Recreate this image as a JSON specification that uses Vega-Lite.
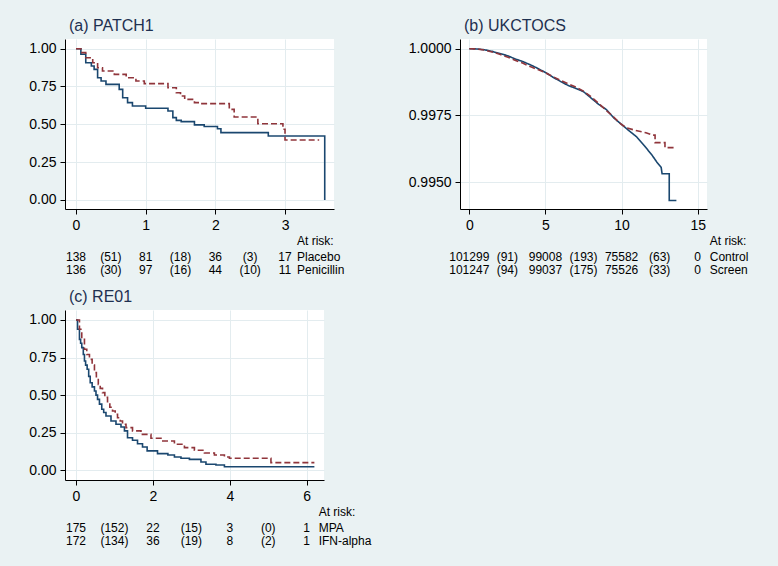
{
  "$schema": "https://vega.github.io/schema/vega-lite/v6.json",
  "background": "#EAF2F3",
  "padding": {"left": 28, "top": 18, "right": 31, "bottom": 16},
  "datasets": {
    "km": [
      {"panel": "a", "arm": "Placebo", "t": 0, "s": 1},
      {"panel": "a", "arm": "Placebo", "t": 0.07, "s": 0.963},
      {"panel": "a", "arm": "Placebo", "t": 0.14, "s": 0.907},
      {"panel": "a", "arm": "Placebo", "t": 0.22, "s": 0.885},
      {"panel": "a", "arm": "Placebo", "t": 0.26, "s": 0.863},
      {"panel": "a", "arm": "Placebo", "t": 0.31, "s": 0.808},
      {"panel": "a", "arm": "Placebo", "t": 0.36, "s": 0.786},
      {"panel": "a", "arm": "Placebo", "t": 0.43, "s": 0.764},
      {"panel": "a", "arm": "Placebo", "t": 0.62, "s": 0.731},
      {"panel": "a", "arm": "Placebo", "t": 0.67, "s": 0.676},
      {"panel": "a", "arm": "Placebo", "t": 0.74, "s": 0.643},
      {"panel": "a", "arm": "Placebo", "t": 0.81, "s": 0.621},
      {"panel": "a", "arm": "Placebo", "t": 1.0, "s": 0.606},
      {"panel": "a", "arm": "Placebo", "t": 1.32, "s": 0.588},
      {"panel": "a", "arm": "Placebo", "t": 1.39, "s": 0.544},
      {"panel": "a", "arm": "Placebo", "t": 1.44, "s": 0.526},
      {"panel": "a", "arm": "Placebo", "t": 1.51, "s": 0.518},
      {"panel": "a", "arm": "Placebo", "t": 1.7, "s": 0.496},
      {"panel": "a", "arm": "Placebo", "t": 1.84, "s": 0.485},
      {"panel": "a", "arm": "Placebo", "t": 2.03, "s": 0.471},
      {"panel": "a", "arm": "Placebo", "t": 2.08, "s": 0.445},
      {"panel": "a", "arm": "Placebo", "t": 2.76, "s": 0.423},
      {"panel": "a", "arm": "Placebo", "t": 3.57, "s": 0},
      {"panel": "a", "arm": "Penicillin", "t": 0, "s": 1},
      {"panel": "a", "arm": "Penicillin", "t": 0.07, "s": 0.974},
      {"panel": "a", "arm": "Penicillin", "t": 0.14, "s": 0.94},
      {"panel": "a", "arm": "Penicillin", "t": 0.24, "s": 0.907},
      {"panel": "a", "arm": "Penicillin", "t": 0.31, "s": 0.874},
      {"panel": "a", "arm": "Penicillin", "t": 0.38, "s": 0.852},
      {"panel": "a", "arm": "Penicillin", "t": 0.55, "s": 0.83},
      {"panel": "a", "arm": "Penicillin", "t": 0.72, "s": 0.808},
      {"panel": "a", "arm": "Penicillin", "t": 0.86, "s": 0.786},
      {"panel": "a", "arm": "Penicillin", "t": 0.98, "s": 0.769},
      {"panel": "a", "arm": "Penicillin", "t": 1.32, "s": 0.742},
      {"panel": "a", "arm": "Penicillin", "t": 1.44, "s": 0.709},
      {"panel": "a", "arm": "Penicillin", "t": 1.5, "s": 0.687},
      {"panel": "a", "arm": "Penicillin", "t": 1.56, "s": 0.665},
      {"panel": "a", "arm": "Penicillin", "t": 1.7, "s": 0.643},
      {"panel": "a", "arm": "Penicillin", "t": 1.77, "s": 0.637},
      {"panel": "a", "arm": "Penicillin", "t": 2.2, "s": 0.599},
      {"panel": "a", "arm": "Penicillin", "t": 2.27, "s": 0.548},
      {"panel": "a", "arm": "Penicillin", "t": 2.61, "s": 0.504},
      {"panel": "a", "arm": "Penicillin", "t": 2.97, "s": 0.467},
      {"panel": "a", "arm": "Penicillin", "t": 3.0, "s": 0.396},
      {"panel": "a", "arm": "Penicillin", "t": 3.49, "s": 0.396},

      {"panel": "b", "arm": "Control", "t": 0, "s": 1},
      {"panel": "b", "arm": "Control", "t": 0.5, "s": 0.99999},
      {"panel": "b", "arm": "Control", "t": 1.0, "s": 0.99996},
      {"panel": "b", "arm": "Control", "t": 1.5, "s": 0.9999},
      {"panel": "b", "arm": "Control", "t": 2.0, "s": 0.99982},
      {"panel": "b", "arm": "Control", "t": 2.5, "s": 0.99974},
      {"panel": "b", "arm": "Control", "t": 3.0, "s": 0.99962},
      {"panel": "b", "arm": "Control", "t": 3.5, "s": 0.99952},
      {"panel": "b", "arm": "Control", "t": 4.0, "s": 0.9994},
      {"panel": "b", "arm": "Control", "t": 4.5, "s": 0.99926},
      {"panel": "b", "arm": "Control", "t": 5.0, "s": 0.99911},
      {"panel": "b", "arm": "Control", "t": 5.5, "s": 0.99893},
      {"panel": "b", "arm": "Control", "t": 6.0, "s": 0.99877},
      {"panel": "b", "arm": "Control", "t": 6.5, "s": 0.99862},
      {"panel": "b", "arm": "Control", "t": 7.0, "s": 0.99851},
      {"panel": "b", "arm": "Control", "t": 7.5, "s": 0.99839},
      {"panel": "b", "arm": "Control", "t": 8.0, "s": 0.99815},
      {"panel": "b", "arm": "Control", "t": 8.5, "s": 0.99791},
      {"panel": "b", "arm": "Control", "t": 9.0, "s": 0.99772},
      {"panel": "b", "arm": "Control", "t": 9.5, "s": 0.9974},
      {"panel": "b", "arm": "Control", "t": 10.0, "s": 0.99716},
      {"panel": "b", "arm": "Control", "t": 10.5, "s": 0.99692},
      {"panel": "b", "arm": "Control", "t": 11.0, "s": 0.99669},
      {"panel": "b", "arm": "Control", "t": 11.5, "s": 0.99636},
      {"panel": "b", "arm": "Control", "t": 12.0, "s": 0.99601},
      {"panel": "b", "arm": "Control", "t": 12.3, "s": 0.99576},
      {"panel": "b", "arm": "Control", "t": 12.6, "s": 0.99555},
      {"panel": "b", "arm": "Control", "t": 12.66, "s": 0.99531},
      {"panel": "b", "arm": "Control", "t": 13.13, "s": 0.99531},
      {"panel": "b", "arm": "Control", "t": 13.13, "s": 0.99431},
      {"panel": "b", "arm": "Control", "t": 13.6, "s": 0.99431},
      {"panel": "b", "arm": "Screen", "t": 0, "s": 1},
      {"panel": "b", "arm": "Screen", "t": 0.5, "s": 0.99999},
      {"panel": "b", "arm": "Screen", "t": 1.0, "s": 0.99995},
      {"panel": "b", "arm": "Screen", "t": 1.5, "s": 0.99988},
      {"panel": "b", "arm": "Screen", "t": 2.0, "s": 0.99979},
      {"panel": "b", "arm": "Screen", "t": 2.5, "s": 0.99969},
      {"panel": "b", "arm": "Screen", "t": 3.0, "s": 0.99957},
      {"panel": "b", "arm": "Screen", "t": 3.5, "s": 0.99946},
      {"panel": "b", "arm": "Screen", "t": 4.0, "s": 0.99933},
      {"panel": "b", "arm": "Screen", "t": 4.5, "s": 0.99922},
      {"panel": "b", "arm": "Screen", "t": 5.0, "s": 0.9991},
      {"panel": "b", "arm": "Screen", "t": 5.5, "s": 0.99895},
      {"panel": "b", "arm": "Screen", "t": 6.0, "s": 0.99881},
      {"panel": "b", "arm": "Screen", "t": 6.5, "s": 0.99868},
      {"panel": "b", "arm": "Screen", "t": 7.0, "s": 0.99856},
      {"panel": "b", "arm": "Screen", "t": 7.5, "s": 0.99841},
      {"panel": "b", "arm": "Screen", "t": 8.0, "s": 0.9982},
      {"panel": "b", "arm": "Screen", "t": 8.5, "s": 0.99795},
      {"panel": "b", "arm": "Screen", "t": 9.0, "s": 0.99768},
      {"panel": "b", "arm": "Screen", "t": 9.5, "s": 0.99743},
      {"panel": "b", "arm": "Screen", "t": 9.9, "s": 0.9972},
      {"panel": "b", "arm": "Screen", "t": 10.3, "s": 0.99704},
      {"panel": "b", "arm": "Screen", "t": 10.9, "s": 0.99694},
      {"panel": "b", "arm": "Screen", "t": 11.6, "s": 0.99685},
      {"panel": "b", "arm": "Screen", "t": 12.04, "s": 0.99676},
      {"panel": "b", "arm": "Screen", "t": 12.2, "s": 0.99676},
      {"panel": "b", "arm": "Screen", "t": 12.2, "s": 0.99648},
      {"panel": "b", "arm": "Screen", "t": 12.85, "s": 0.99648},
      {"panel": "b", "arm": "Screen", "t": 12.85, "s": 0.99629},
      {"panel": "b", "arm": "Screen", "t": 13.6, "s": 0.99629},

      {"panel": "c", "arm": "MPA", "t": 0, "s": 1},
      {"panel": "c", "arm": "MPA", "t": 0.04, "s": 0.938},
      {"panel": "c", "arm": "MPA", "t": 0.09, "s": 0.871},
      {"panel": "c", "arm": "MPA", "t": 0.12, "s": 0.845},
      {"panel": "c", "arm": "MPA", "t": 0.15, "s": 0.816},
      {"panel": "c", "arm": "MPA", "t": 0.19, "s": 0.77},
      {"panel": "c", "arm": "MPA", "t": 0.22, "s": 0.727},
      {"panel": "c", "arm": "MPA", "t": 0.25, "s": 0.7},
      {"panel": "c", "arm": "MPA", "t": 0.29, "s": 0.672},
      {"panel": "c", "arm": "MPA", "t": 0.33, "s": 0.625},
      {"panel": "c", "arm": "MPA", "t": 0.37, "s": 0.583},
      {"panel": "c", "arm": "MPA", "t": 0.42, "s": 0.555},
      {"panel": "c", "arm": "MPA", "t": 0.48, "s": 0.528},
      {"panel": "c", "arm": "MPA", "t": 0.52, "s": 0.5},
      {"panel": "c", "arm": "MPA", "t": 0.56, "s": 0.472},
      {"panel": "c", "arm": "MPA", "t": 0.61, "s": 0.44},
      {"panel": "c", "arm": "MPA", "t": 0.67, "s": 0.406},
      {"panel": "c", "arm": "MPA", "t": 0.72, "s": 0.385},
      {"panel": "c", "arm": "MPA", "t": 0.78, "s": 0.361},
      {"panel": "c", "arm": "MPA", "t": 0.91, "s": 0.328},
      {"panel": "c", "arm": "MPA", "t": 1.04, "s": 0.306},
      {"panel": "c", "arm": "MPA", "t": 1.17, "s": 0.288},
      {"panel": "c", "arm": "MPA", "t": 1.26, "s": 0.262},
      {"panel": "c", "arm": "MPA", "t": 1.34, "s": 0.217},
      {"panel": "c", "arm": "MPA", "t": 1.47, "s": 0.2},
      {"panel": "c", "arm": "MPA", "t": 1.6, "s": 0.177},
      {"panel": "c", "arm": "MPA", "t": 1.73, "s": 0.155},
      {"panel": "c", "arm": "MPA", "t": 1.85, "s": 0.129},
      {"panel": "c", "arm": "MPA", "t": 2.12, "s": 0.111},
      {"panel": "c", "arm": "MPA", "t": 2.39, "s": 0.102},
      {"panel": "c", "arm": "MPA", "t": 2.56, "s": 0.089},
      {"panel": "c", "arm": "MPA", "t": 2.73, "s": 0.08},
      {"panel": "c", "arm": "MPA", "t": 2.95, "s": 0.073},
      {"panel": "c", "arm": "MPA", "t": 3.25, "s": 0.055},
      {"panel": "c", "arm": "MPA", "t": 3.38, "s": 0.04},
      {"panel": "c", "arm": "MPA", "t": 3.64, "s": 0.035},
      {"panel": "c", "arm": "MPA", "t": 3.86, "s": 0.024},
      {"panel": "c", "arm": "MPA", "t": 6.2, "s": 0.024},
      {"panel": "c", "arm": "IFN-alpha", "t": 0, "s": 1},
      {"panel": "c", "arm": "IFN-alpha", "t": 0.09, "s": 0.938},
      {"panel": "c", "arm": "IFN-alpha", "t": 0.15, "s": 0.871},
      {"panel": "c", "arm": "IFN-alpha", "t": 0.22, "s": 0.805},
      {"panel": "c", "arm": "IFN-alpha", "t": 0.28, "s": 0.77},
      {"panel": "c", "arm": "IFN-alpha", "t": 0.35, "s": 0.738},
      {"panel": "c", "arm": "IFN-alpha", "t": 0.42, "s": 0.7},
      {"panel": "c", "arm": "IFN-alpha", "t": 0.48, "s": 0.65},
      {"panel": "c", "arm": "IFN-alpha", "t": 0.53, "s": 0.61},
      {"panel": "c", "arm": "IFN-alpha", "t": 0.58, "s": 0.572},
      {"panel": "c", "arm": "IFN-alpha", "t": 0.63, "s": 0.545},
      {"panel": "c", "arm": "IFN-alpha", "t": 0.69, "s": 0.517},
      {"panel": "c", "arm": "IFN-alpha", "t": 0.75, "s": 0.485},
      {"panel": "c", "arm": "IFN-alpha", "t": 0.82, "s": 0.45},
      {"panel": "c", "arm": "IFN-alpha", "t": 0.88, "s": 0.42},
      {"panel": "c", "arm": "IFN-alpha", "t": 0.95, "s": 0.395},
      {"panel": "c", "arm": "IFN-alpha", "t": 1.02, "s": 0.372},
      {"panel": "c", "arm": "IFN-alpha", "t": 1.08, "s": 0.35},
      {"panel": "c", "arm": "IFN-alpha", "t": 1.15, "s": 0.328},
      {"panel": "c", "arm": "IFN-alpha", "t": 1.21, "s": 0.306},
      {"panel": "c", "arm": "IFN-alpha", "t": 1.3, "s": 0.284},
      {"panel": "c", "arm": "IFN-alpha", "t": 1.47, "s": 0.262},
      {"panel": "c", "arm": "IFN-alpha", "t": 1.69, "s": 0.239},
      {"panel": "c", "arm": "IFN-alpha", "t": 1.95, "s": 0.213},
      {"panel": "c", "arm": "IFN-alpha", "t": 2.21, "s": 0.195},
      {"panel": "c", "arm": "IFN-alpha", "t": 2.56, "s": 0.173},
      {"panel": "c", "arm": "IFN-alpha", "t": 2.82, "s": 0.151},
      {"panel": "c", "arm": "IFN-alpha", "t": 3.08, "s": 0.133},
      {"panel": "c", "arm": "IFN-alpha", "t": 3.34, "s": 0.115},
      {"panel": "c", "arm": "IFN-alpha", "t": 3.6, "s": 0.102},
      {"panel": "c", "arm": "IFN-alpha", "t": 3.86, "s": 0.089},
      {"panel": "c", "arm": "IFN-alpha", "t": 3.99, "s": 0.08},
      {"panel": "c", "arm": "IFN-alpha", "t": 5.07, "s": 0.051},
      {"panel": "c", "arm": "IFN-alpha", "t": 6.2, "s": 0.051}
    ],
    "risk": [
      {"panel": "a", "row": 1, "t": 0, "n": "138"},
      {"panel": "a", "row": 1, "t": 0.5, "n": "(51)"},
      {"panel": "a", "row": 1, "t": 1, "n": "81"},
      {"panel": "a", "row": 1, "t": 1.5, "n": "(18)"},
      {"panel": "a", "row": 1, "t": 2, "n": "36"},
      {"panel": "a", "row": 1, "t": 2.5, "n": "(3)"},
      {"panel": "a", "row": 1, "t": 3, "n": "17"},
      {"panel": "a", "row": 2, "t": 0, "n": "136"},
      {"panel": "a", "row": 2, "t": 0.5, "n": "(30)"},
      {"panel": "a", "row": 2, "t": 1, "n": "97"},
      {"panel": "a", "row": 2, "t": 1.5, "n": "(16)"},
      {"panel": "a", "row": 2, "t": 2, "n": "44"},
      {"panel": "a", "row": 2, "t": 2.5, "n": "(10)"},
      {"panel": "a", "row": 2, "t": 3, "n": "11"},
      {"panel": "b", "row": 1, "t": 0, "n": "101299"},
      {"panel": "b", "row": 1, "t": 2.5, "n": "(91)"},
      {"panel": "b", "row": 1, "t": 5, "n": "99008"},
      {"panel": "b", "row": 1, "t": 7.5, "n": "(193)"},
      {"panel": "b", "row": 1, "t": 10, "n": "75582"},
      {"panel": "b", "row": 1, "t": 12.5, "n": "(63)"},
      {"panel": "b", "row": 1, "t": 15, "n": "0"},
      {"panel": "b", "row": 2, "t": 0, "n": "101247"},
      {"panel": "b", "row": 2, "t": 2.5, "n": "(94)"},
      {"panel": "b", "row": 2, "t": 5, "n": "99037"},
      {"panel": "b", "row": 2, "t": 7.5, "n": "(175)"},
      {"panel": "b", "row": 2, "t": 10, "n": "75526"},
      {"panel": "b", "row": 2, "t": 12.5, "n": "(33)"},
      {"panel": "b", "row": 2, "t": 15, "n": "0"},
      {"panel": "c", "row": 1, "t": 0, "n": "175"},
      {"panel": "c", "row": 1, "t": 1, "n": "(152)"},
      {"panel": "c", "row": 1, "t": 2, "n": "22"},
      {"panel": "c", "row": 1, "t": 3, "n": "(15)"},
      {"panel": "c", "row": 1, "t": 4, "n": "3"},
      {"panel": "c", "row": 1, "t": 5, "n": "(0)"},
      {"panel": "c", "row": 1, "t": 6, "n": "1"},
      {"panel": "c", "row": 2, "t": 0, "n": "172"},
      {"panel": "c", "row": 2, "t": 1, "n": "(134)"},
      {"panel": "c", "row": 2, "t": 2, "n": "36"},
      {"panel": "c", "row": 2, "t": 3, "n": "(19)"},
      {"panel": "c", "row": 2, "t": 4, "n": "8"},
      {"panel": "c", "row": 2, "t": 5, "n": "(2)"},
      {"panel": "c", "row": 2, "t": 6, "n": "1"}
    ],
    "labels": [
      {"panel": "a", "row": 0, "t": 3, "label": "At risk:"},
      {"panel": "a", "row": 1, "t": 3, "label": "Placebo"},
      {"panel": "a", "row": 2, "t": 3, "label": "Penicillin"},
      {"panel": "b", "row": 0, "t": 15, "label": "At risk:"},
      {"panel": "b", "row": 1, "t": 15, "label": "Control"},
      {"panel": "b", "row": 2, "t": 15, "label": "Screen"},
      {"panel": "c", "row": 0, "t": 6, "label": "At risk:"},
      {"panel": "c", "row": 1, "t": 6, "label": "MPA"},
      {"panel": "c", "row": 2, "t": 6, "label": "IFN-alpha"}
    ]
  },
  "columns": 2,
  "align": "each",
  "bounds": "flush",
  "spacing": {"row": 28, "column": 126},
  "resolve": {"scale": {"x": "independent", "y": "independent", "color": "independent", "strokeDash": "independent"}},
  "concat": [
    {
      "width": 269, "height": 170,
      "view": {"fill": "white", "stroke": null},
      "title": {"text": "(a) PATCH1"},
      "data": {"name": "km"},
      "transform": [{"filter": "datum.panel == 'a'"}],
      "mark": {"type": "line", "interpolate": "step-after", "strokeWidth": 1.6},
      "encoding": {
        "x": {"field": "t", "type": "quantitative", "title": null, "scale": {"domain": [-0.158, 3.703], "nice": false, "zero": false}, "axis": {"values": [0, 1, 2, 3], "format": "d"}},
        "y": {"field": "s", "type": "quantitative", "title": null, "scale": {"domain": [-0.06, 1.064], "nice": false, "zero": false}, "axis": {"values": [0, 0.25, 0.5, 0.75, 1], "format": ".2f"}},
        "color": {"field": "arm", "type": "nominal", "scale": {"domain": ["Placebo", "Penicillin"], "range": ["#1a476f", "#90353b"]}, "legend": null},
        "strokeDash": {"field": "arm", "type": "nominal", "scale": {"domain": ["Placebo", "Penicillin"], "range": [[1, 0], [6, 3]]}, "legend": null}
      }
    },
    {
      "width": 247, "height": 170,
      "view": {"fill": "white", "stroke": null},
      "title": {"text": "(b) UKCTOCS"},
      "data": {"name": "km"},
      "transform": [{"filter": "datum.panel == 'b'"}],
      "mark": {"type": "line", "interpolate": "linear", "strokeWidth": 1.6},
      "encoding": {
        "x": {"field": "t", "type": "quantitative", "title": null, "scale": {"domain": [-0.61, 15.61], "nice": false, "zero": false}, "axis": {"values": [0, 5, 10, 15], "format": "d"}},
        "y": {"field": "s", "type": "quantitative", "title": null, "scale": {"domain": [0.99399, 1.000364], "nice": false, "zero": false}, "axis": {"values": [0.995, 0.9975, 1], "format": ".4f"}},
        "color": {"field": "arm", "type": "nominal", "scale": {"domain": ["Control", "Screen"], "range": ["#1a476f", "#90353b"]}, "legend": null},
        "strokeDash": {"field": "arm", "type": "nominal", "scale": {"domain": ["Control", "Screen"], "range": [[1, 0], [6, 3]]}, "legend": null}
      }
    },
    {
      "width": 269, "height": 45,
      "layer": [
        {
          "data": {"name": "risk"},
          "transform": [{"filter": "datum.panel == 'a'"}],
          "mark": {"type": "text", "align": "center", "baseline": "middle"},
          "encoding": {
            "x": {"field": "t", "type": "quantitative", "scale": {"domain": [-0.158, 3.703], "nice": false, "zero": false}, "axis": null},
            "y": {"field": "row", "type": "quantitative", "scale": {"domain": [-0.5, 2.96], "reverse": true, "nice": false, "zero": false}, "axis": null},
            "text": {"field": "n", "type": "nominal"}
          }
        },
        {
          "data": {"name": "labels"},
          "transform": [{"filter": "datum.panel == 'a' && datum.row > 0"}],
          "mark": {"type": "text", "align": "left", "baseline": "middle", "dx": 12},
          "encoding": {
            "x": {"field": "t", "type": "quantitative"},
            "y": {"field": "row", "type": "quantitative"},
            "text": {"field": "label", "type": "nominal"}
          }
        },
        {
          "data": {"name": "labels"},
          "transform": [{"filter": "datum.panel == 'a' && datum.row == 0"}],
          "mark": {"type": "text", "align": "left", "baseline": "middle", "dx": 12, "dy": -2.5},
          "encoding": {
            "x": {"field": "t", "type": "quantitative"},
            "y": {"field": "row", "type": "quantitative"},
            "text": {"field": "label", "type": "nominal"}
          }
        }
      ]
    },
    {
      "width": 247, "height": 45,
      "layer": [
        {
          "data": {"name": "risk"},
          "transform": [{"filter": "datum.panel == 'b'"}],
          "mark": {"type": "text", "align": "center", "baseline": "middle"},
          "encoding": {
            "x": {"field": "t", "type": "quantitative", "scale": {"domain": [-0.61, 15.61], "nice": false, "zero": false}, "axis": null},
            "y": {"field": "row", "type": "quantitative", "scale": {"domain": [-0.5, 2.96], "reverse": true, "nice": false, "zero": false}, "axis": null},
            "text": {"field": "n", "type": "nominal"}
          }
        },
        {
          "data": {"name": "labels"},
          "transform": [{"filter": "datum.panel == 'b' && datum.row > 0"}],
          "mark": {"type": "text", "align": "left", "baseline": "middle", "dx": 12},
          "encoding": {
            "x": {"field": "t", "type": "quantitative"},
            "y": {"field": "row", "type": "quantitative"},
            "text": {"field": "label", "type": "nominal"}
          }
        },
        {
          "data": {"name": "labels"},
          "transform": [{"filter": "datum.panel == 'b' && datum.row == 0"}],
          "mark": {"type": "text", "align": "left", "baseline": "middle", "dx": 12, "dy": -2.5},
          "encoding": {
            "x": {"field": "t", "type": "quantitative"},
            "y": {"field": "row", "type": "quantitative"},
            "text": {"field": "label", "type": "nominal"}
          }
        }
      ]
    },
    {
      "width": 259, "height": 170,
      "view": {"fill": "white", "stroke": null},
      "title": {"text": "(c) RE01"},
      "data": {"name": "km"},
      "transform": [{"filter": "datum.panel == 'c'"}],
      "mark": {"type": "line", "interpolate": "step-after", "strokeWidth": 1.6},
      "encoding": {
        "x": {"field": "t", "type": "quantitative", "title": null, "scale": {"domain": [-0.286, 6.45], "nice": false, "zero": false}, "axis": {"values": [0, 2, 4, 6], "format": "d"}},
        "y": {"field": "s", "type": "quantitative", "title": null, "scale": {"domain": [-0.0645, 1.0665], "nice": false, "zero": false}, "axis": {"values": [0, 0.25, 0.5, 0.75, 1], "format": ".2f"}},
        "color": {"field": "arm", "type": "nominal", "scale": {"domain": ["MPA", "IFN-alpha"], "range": ["#1a476f", "#90353b"]}, "legend": null},
        "strokeDash": {"field": "arm", "type": "nominal", "scale": {"domain": ["MPA", "IFN-alpha"], "range": [[1, 0], [6, 3]]}, "legend": null}
      }
    },
    {
      "width": 247, "height": 170,
      "data": {"values": []},
      "mark": "point"
    },
    {
      "width": 259, "height": 45,
      "layer": [
        {
          "data": {"name": "risk"},
          "transform": [{"filter": "datum.panel == 'c'"}],
          "mark": {"type": "text", "align": "center", "baseline": "middle"},
          "encoding": {
            "x": {"field": "t", "type": "quantitative", "scale": {"domain": [-0.286, 6.45], "nice": false, "zero": false}, "axis": null},
            "y": {"field": "row", "type": "quantitative", "scale": {"domain": [-0.5, 2.96], "reverse": true, "nice": false, "zero": false}, "axis": null},
            "text": {"field": "n", "type": "nominal"}
          }
        },
        {
          "data": {"name": "labels"},
          "transform": [{"filter": "datum.panel == 'c' && datum.row > 0"}],
          "mark": {"type": "text", "align": "left", "baseline": "middle", "dx": 12},
          "encoding": {
            "x": {"field": "t", "type": "quantitative"},
            "y": {"field": "row", "type": "quantitative"},
            "text": {"field": "label", "type": "nominal"}
          }
        },
        {
          "data": {"name": "labels"},
          "transform": [{"filter": "datum.panel == 'c' && datum.row == 0"}],
          "mark": {"type": "text", "align": "left", "baseline": "middle", "dx": 12, "dy": -2.5},
          "encoding": {
            "x": {"field": "t", "type": "quantitative"},
            "y": {"field": "row", "type": "quantitative"},
            "text": {"field": "label", "type": "nominal"}
          }
        }
      ]
    }
  ],
  "config": {
    "font": "Liberation Sans",
    "view": {"stroke": null},
    "axis": {
      "grid": true, "gridColor": "#E3ECEF", "gridWidth": 1,
      "domainColor": "#000000", "domainWidth": 1,
      "tickColor": "#000000", "tickWidth": 1, "tickSize": 5,
      "labelColor": "#000000", "labelFont": "Liberation Sans", "labelFontSize": 14, "labelPadding": 4,
      "labelFlush": false, "labelOverlap": false
    },
    "title": {"font": "Liberation Sans", "fontSize": 16, "fontWeight": "normal", "color": "#1e3050", "anchor": "start", "frame": "group", "offset": 5, "dx": 4, "baseline": "alphabetic"},
    "text": {"font": "Liberation Sans", "fontSize": 12, "color": "#000000"}
  }
}
